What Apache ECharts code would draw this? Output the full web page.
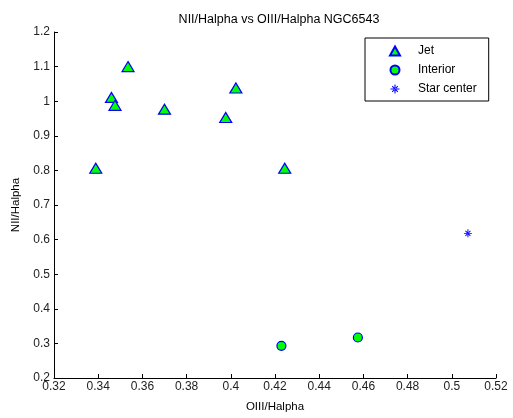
<!DOCTYPE html>
<html>
<head>
<meta charset="utf-8">
<script src="https://cdn.jsdelivr.net/npm/echarts@6/dist/echarts.min.js"></script>
<style>
  html, body { margin: 0; padding: 0; background: #fff; }
  #chart-container { width: 513px; height: 418px; }
</style>
</head>
<body>
<div id="chart-container"></div>
<script>
var jetData = [
  [0.3389, 0.806], [0.3460, 1.011], [0.3476, 0.988], [0.3535, 1.100],
  [0.3700, 0.977], [0.3977, 0.953], [0.4023, 1.038], [0.4244, 0.806]
];
var interiorData = [[0.4229, 0.293], [0.4575, 0.317]];
var starData = [[0.5073, 0.618]];

var asterisk = "path://M-0.6,-5L0.6,-5L0.6,5L-0.6,5Z M-5,-0.6L5,-0.6L5,0.6L-5,0.6Z M-3.5,-2.7L-2.7,-3.5L3.5,2.7L2.7,3.5Z M3.5,-2.7L2.7,-3.5L-3.5,2.7L-2.7,3.5Z";

var dom = document.getElementById("chart-container");
var myChart = echarts.init(dom, null, { renderer: "canvas" });

var tickFont = { fontFamily: "Liberation Sans, Arial, sans-serif", fontSize: 12, color: "#222" };

var option = {
  animation: false,
  backgroundColor: "#fff",
  title: {
    text: "NII/Halpha vs OIII/Halpha NGC6543",
    left: 274,
    top: 8,
    textAlign: "center",
    textStyle: { fontFamily: "Liberation Sans, Arial, sans-serif", fontSize: 12.5, fontWeight: "normal", color: "#000" }
  },
  grid: { left: 54, right: 17, top: 32, bottom: 38 },
  legend: {
    orient: "vertical",
    left: 365,
    top: 38,
    padding: [7, 12, 6, 24],
    itemGap: 7,
    itemWidth: 10,
    itemHeight: 9,
    borderColor: "#000",
    borderWidth: 1,
    backgroundColor: "#fff",
    textStyle: { fontFamily: "Liberation Sans, Arial, sans-serif", fontSize: 12, color: "#000", padding: [0, 0, 0, 13] },
    data: ["Jet", "Interior", "Star center"]
  },
  xAxis: {
    type: "value",
    min: 0.32, max: 0.52, interval: 0.02,
    name: "OIII/Halpha",
    nameLocation: "middle",
    nameGap: 23,
    nameTextStyle: { fontFamily: "Liberation Sans, Arial, sans-serif", fontSize: 11.5, color: "#000" },
    splitLine: { show: false },
    axisLine: { lineStyle: { color: "#000", width: 1 } },
    axisTick: { inside: true, length: 4, lineStyle: { color: "#000" } },
    axisLabel: Object.assign({ margin: 3, formatter: function (v) { return +v.toFixed(2) + ""; } }, tickFont)
  },
  yAxis: {
    type: "value",
    min: 0.2, max: 1.2, interval: 0.1,
    name: "NII/Halpha",
    nameLocation: "middle",
    nameGap: 32,
    nameTextStyle: { fontFamily: "Liberation Sans, Arial, sans-serif", fontSize: 11.5, color: "#000" },
    splitLine: { show: false },
    axisLine: { show: true, lineStyle: { color: "#000", width: 1 } },
    axisTick: { show: true, inside: true, length: 4, lineStyle: { color: "#000" } },
    axisLabel: Object.assign({ margin: 4, formatter: function (v) { return +v.toFixed(1) + ""; } }, tickFont)
  },
  series: [
    {
      name: "Jet", type: "scatter", symbol: "triangle", symbolSize: [12, 10],
      itemStyle: { color: "#00ff00", borderColor: "#0000ff", borderWidth: 1.2, opacity: 1 },
      data: jetData
    },
    {
      name: "Interior", type: "scatter", symbol: "circle", symbolSize: 9,
      itemStyle: { color: "#00ff00", borderColor: "#0000ff", borderWidth: 1.2, opacity: 1 },
      data: interiorData
    },
    {
      name: "Star center", type: "scatter", symbol: asterisk, symbolSize: 8,
      itemStyle: { color: "#0000ff", opacity: 1 },
      data: starData
    }
  ]
};

myChart.setOption(option);
window.addEventListener("resize", myChart.resize);
</script>
</body>
</html>
